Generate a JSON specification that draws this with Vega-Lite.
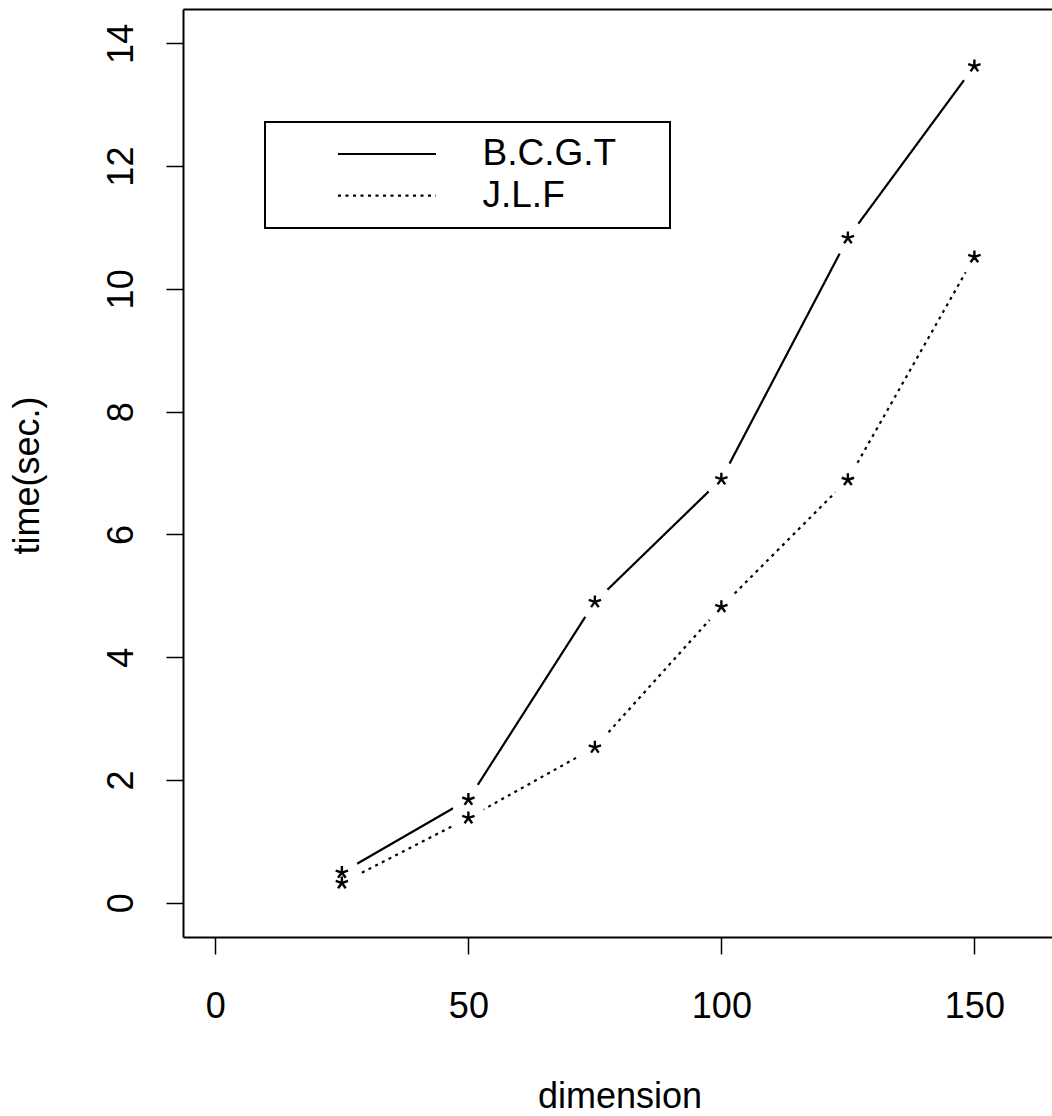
{
  "$schema": "https://vega.github.io/schema/vega-lite/v6.json",
  "autosize": {"type": "none"},
  "padding": {"left": 183, "top": 9, "right": 0, "bottom": 179},
  "width": 869,
  "height": 928,
  "background": "white",
  "config": {
    "view": {"stroke": null},
    "axis": {"grid": false, "labelFont": "Liberation Sans", "titleFont": "Liberation Sans", "labelColor": "black", "titleColor": "black", "tickColor": "black", "domainColor": "black"}
  },
  "data": {
    "values": [
      {"dimension": 25, "time": 0.49, "method": "B.C.G.T"},
      {"dimension": 50, "time": 1.68, "method": "B.C.G.T"},
      {"dimension": 75, "time": 4.9, "method": "B.C.G.T"},
      {"dimension": 100, "time": 6.9, "method": "B.C.G.T"},
      {"dimension": 125, "time": 10.83, "method": "B.C.G.T"},
      {"dimension": 150, "time": 13.63, "method": "B.C.G.T"},
      {"dimension": 25, "time": 0.32, "method": "J.L.F"},
      {"dimension": 50, "time": 1.38, "method": "J.L.F"},
      {"dimension": 75, "time": 2.53, "method": "J.L.F"},
      {"dimension": 100, "time": 4.82, "method": "J.L.F"},
      {"dimension": 125, "time": 6.89, "method": "J.L.F"},
      {"dimension": 150, "time": 10.52, "method": "J.L.F"}
    ]
  },
  "layer": [
    {
      "mark": {"type": "line", "color": "black", "strokeWidth": 2.2},
      "encoding": {
        "x": {
          "field": "dimension", "type": "quantitative",
          "scale": {"domain": [-6.4, 165.34], "nice": false, "zero": false},
          "axis": {
            "orient": "bottom", "values": [0, 50, 100, 150], "format": "d", "tickSize": 17, "tickWidth": 1.5,
            "domainWidth": 2, "labelFontSize": 36, "labelBaseline": "alphabetic", "labelPadding": 63,
            "labelFlush": false, "labelOverlap": false,
            "title": "dimension", "titleFontSize": 36, "titleFontWeight": "normal",
            "titleBaseline": "alphabetic", "titleAlign": "center", "titleX": 436.5, "titleY": 170
          }
        },
        "y": {
          "field": "time", "type": "quantitative",
          "scale": {"domain": [-0.56, 14.56], "nice": false, "zero": false},
          "axis": {
            "orient": "left", "values": [0, 2, 4, 6, 8, 10, 12, 14], "format": "d", "tickSize": 17, "tickWidth": 1.5,
            "domainWidth": 2, "labelFontSize": 36, "labelAngle": 270, "labelAlign": "center",
            "labelBaseline": "alphabetic", "labelPadding": 34, "labelFlush": false, "labelOverlap": false,
            "title": "time(sec.)", "titleFontSize": 36, "titleFontWeight": "normal", "titleAngle": 270,
            "titleBaseline": "alphabetic", "titleAlign": "center", "titleX": -145, "titleY": 466
          }
        },
        "strokeDash": {
          "field": "method", "type": "nominal",
          "scale": {"domain": ["B.C.G.T", "J.L.F"], "range": [[1, 0], [3, 4.5]]},
          "legend": {
            "orient": "none", "legendX": 82, "legendY": 113, "title": null,
            "padding": 13.5, "rowPadding": 3.6,
            "symbolType": "M-4.9,0L4.9,0M26.5,0", "symbolSize": 400, "symbolStrokeWidth": 2.2,
            "symbolStrokeColor": "black", "symbolFillColor": "transparent",
            "symbolOffset": 90, "labelOffset": 77,
            "labelFont": "Liberation Sans", "labelFontSize": 37, "labelColor": "black", "labelLimit": 1000,
            "strokeColor": "black",
            "encode": {"legend": {"update": {"stroke": {"value": "black"}, "strokeWidth": {"value": 2}}}}
          }
        }
      }
    },
    {
      "mark": {"type": "point", "shape": "circle", "filled": true, "color": "white", "opacity": 1, "size": 1250},
      "encoding": {
        "x": {
          "field": "dimension", "type": "quantitative",
          "axis": {"orient": "top", "ticks": false, "labels": false, "domain": true, "domainWidth": 2, "title": null}
        },
        "y": {"field": "time", "type": "quantitative"}
      }
    },
    {
      "mark": {
        "type": "point",
        "shape": "M0,-1L0,0M0.95,-0.31L0,0M0.59,0.81L0,0M-0.59,0.81L0,0M-0.95,-0.31L0,0",
        "filled": false, "stroke": "black", "strokeWidth": 2.4, "size": 169, "opacity": 1
      },
      "encoding": {
        "x": {"field": "dimension", "type": "quantitative", "axis": null},
        "y": {"field": "time", "type": "quantitative"}
      }
    }
  ],
  "resolve": {"axis": {"x": "independent"}}
}
